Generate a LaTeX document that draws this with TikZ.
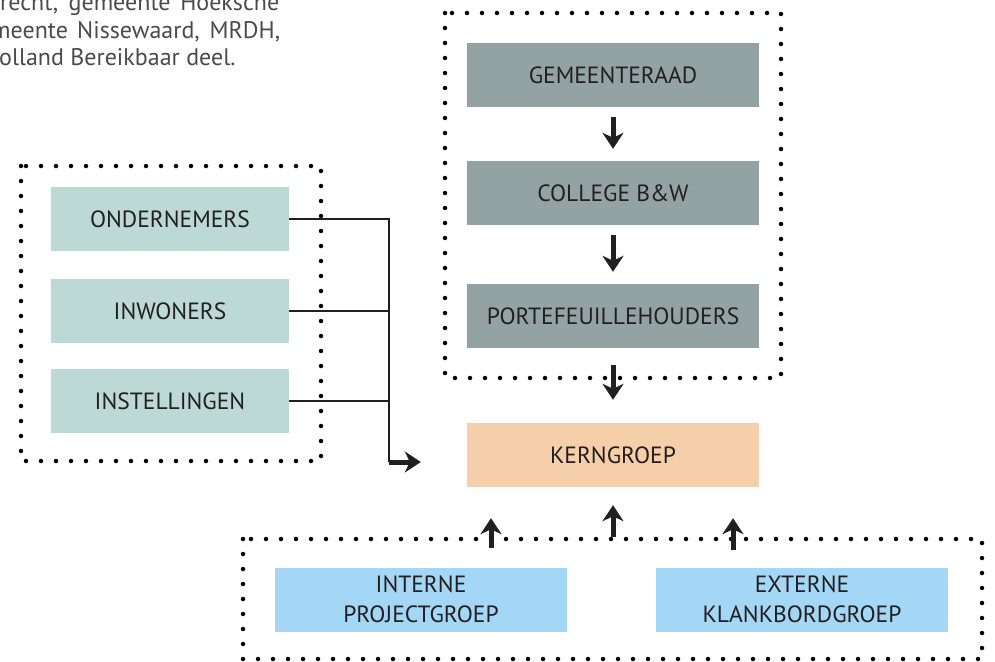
\documentclass[tikz,border=0pt]{standalone}
\usepackage{fontspec}
\setmainfont{PT Sans}
\usetikzlibrary{arrows.meta}
\definecolor{tealbox}{HTML}{BCD9D5}
\definecolor{graybox}{HTML}{93A3A3}
\definecolor{peachbox}{HTML}{F5CFA9}
\definecolor{bluebox}{HTML}{A3D7F5}
\definecolor{inkdark}{HTML}{231F20}
\definecolor{introgray}{HTML}{4A4A4C}
\begin{document}
\begin{tikzpicture}[x=1pt,y=-1pt,
    box/.style={minimum width=292pt,minimum height=64pt,inner sep=0pt,align=center,
      text=inkdark,font=\fontsize{23.5}{30}\selectfont},
    sidebox/.style={box,minimum width=238pt,fill=tealbox},
    intro/.style={anchor=base west,inner sep=0pt,text=introgray,font=\fontsize{24}{27}\selectfont},
    dots/.style={line width=4.5pt,line cap=round,dash pattern=on 0pt off 15pt},
    conn/.style={line width=2pt,inkdark},
    arr/.style={line width=5pt,inkdark,-{Stealth[length=16pt,width=21pt,inset=5pt]}}]
  \useasboundingbox (0,0) rectangle (995,661);
  \clip (0,0) rectangle (995,661);
      \node[intro] (intro1) at (0,11) {\makebox[279pt][s]{recht, gemeente Hoeksche}};
      \node[intro] (intro2) at (-9,38) {\makebox[289pt][s]{meente Nissewaard, MRDH,}};
      \node[intro] (intro3) at (-1,65) {olland Bereikbaar deel.};
      \draw[dots] (21,166) rectangle (321,461);
      \draw[dots] (445,13) rectangle (781,378);
      \draw[dots] (243,539) rectangle (982,659);
      \node[sidebox] (onder) at (170,219) {ONDERNEMERS};
      \node[sidebox] (inwon) at (170,311) {INWONERS};
      \node[sidebox] (instel) at (170,401) {INSTELLINGEN};
      \node[box,fill=graybox] (raad) at (613,75) {GEMEENTERAAD};
      \node[box,fill=graybox] (college) at (613,193) {COLLEGE B\&W};
      \node[box,fill=graybox] (porte) at (613,316) {PORTEFEUILLEHOUDERS};
      \node[box,fill=peachbox] (kern) at (613,455) {KERNGROEP};
      \node[box,fill=bluebox] (intern) at (421,599.5) {INTERNE\\PROJECTGROEP};
      \node[box,fill=bluebox] (extern) at (802,599.5) {EXTERNE\\KLANKBORDGROEP};
      \coordinate (trunk) at (389,462);
      \coordinate (up1) at (491,548);
      \coordinate (up2) at (613,537);
      \coordinate (up3) at (733,550);
      \draw[conn] (onder.east) -- (onder.east -| trunk) -- (trunk);
      \draw[conn] (inwon.east) -- (inwon.east -| trunk);
      \draw[conn] (instel.east) -- (instel.east -| trunk);
      \draw[arr,shorten >=46pt] (trunk) -- (trunk -| kern.west);
      \draw[arr,shorten <=10pt,shorten >=12pt] (raad) -- (college);
      \draw[arr,shorten <=10pt,shorten >=12pt] (college) -- (porte);
      \draw[arr,shorten <=17pt,shorten >=23pt] (porte) -- (kern);
      \draw[arr,shorten >=31pt] (up1) -- (kern.south -| up1);
      \draw[arr,shorten >=18pt] (up2) -- (kern.south);
      \draw[arr,shorten >=31pt] (up3) -- (kern.south -| up3);
\end{tikzpicture}
\end{document}
